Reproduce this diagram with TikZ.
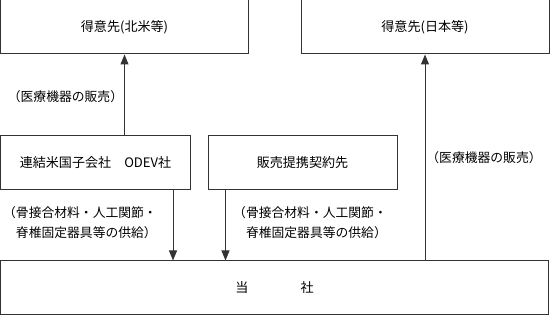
\documentclass[tikz,border=0pt]{standalone}
\usepackage{fontspec}
\newfontfamily\jpfont{Noto Sans CJK JP}
\usetikzlibrary{arrows.meta, positioning, calc}

\begin{document}
\begin{tikzpicture}[
    x=0.75pt, y=-0.75pt,
    party/.style={draw=black!80, rectangle, line width=0.75pt, inner sep=0pt, minimum height=40.5pt, font=\jpfont\fontsize{9.8}{12}\selectfont},
    lbl/.style={inner sep=0pt, font=\jpfont\fontsize{9.6}{15}\selectfont},
    msg/.style={draw=black!80, line width=0.75pt, -{Triangle[width=6pt,length=7.5pt]}}
]
\useasboundingbox (0,0) rectangle (550,316);

% Customers
\node[party, minimum width=186pt] (usa) at (124.5,27) {得意先(北米等)};
\node[party, minimum width=186pt] (japan) at (425,27) {得意先(日本等)};

% Distributors
\node[party, minimum width=142.5pt] (odev) at (95.5,163) {連結米国子会社　ODEV社};
\node[party, minimum width=141.75pt] (partner) at (302.5,163) {販売提携契約先};

% The company
\node[party, minimum width=411pt] (base) at (274.5,288) {当　　　　社};

% Sales
\draw[msg] (odev.north -| usa.south) -- (usa.south);
\draw[msg] (base.north -| japan.south) -- (japan.south);
\node[lbl] (salesusa) at (65.5,97) {（医療機器の販売）};
\node[lbl] (salesjp) at (484,158) {（医療機器の販売）};

% Supply
\coordinate (odevout) at ([xshift=-13.5pt]odev.south east);
\coordinate (partnerout) at ([xshift=13.5pt]partner.south west);
\draw[msg] (odevout) -- (odevout |- base.north);
\draw[msg] (partnerout) -- (partnerout |- base.north);
\node[lbl, align=right] (supplyusa) at (80,223) {（骨接合材料・人工関節・\\脊椎固定器具等の供給）};
\node[lbl, align=right] (supplyjp) at (310,223) {（骨接合材料・人工関節・\\脊椎固定器具等の供給）};

\end{tikzpicture}
\end{document}
